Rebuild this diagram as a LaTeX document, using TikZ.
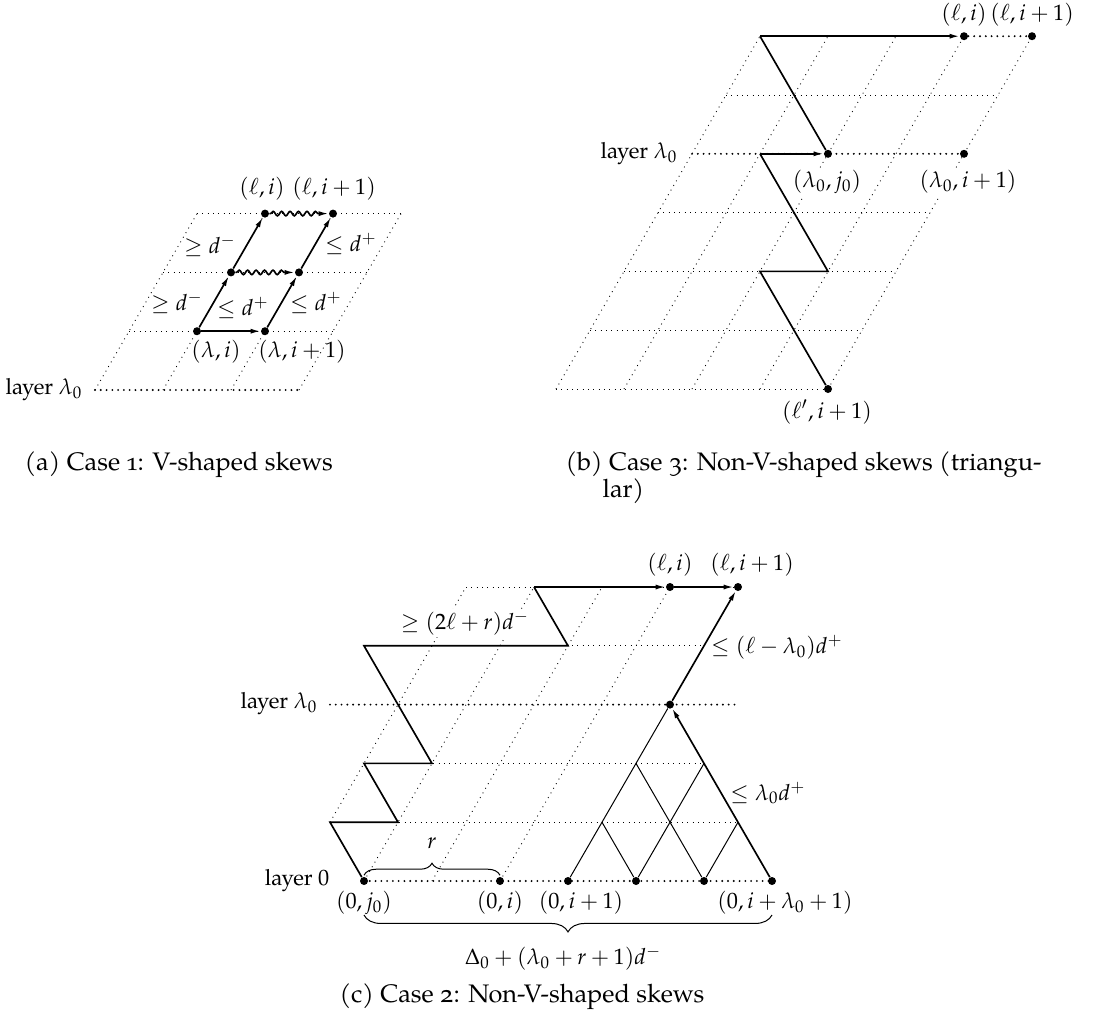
\documentclass[tikz,border=0pt]{standalone}
\usepackage{mathpazo}
\usepackage[no-math]{fontspec}
\setmainfont{TeX Gyre Pagella}[Numbers=OldStyle]
\usetikzlibrary{arrows.meta,decorations.pathmorphing,decorations.pathreplacing}
\begin{document}
\begin{tikzpicture}[x=0.45pt,y=-0.45pt,
  grid/.style={dotted, line width=0.4pt},
  layerline/.style={line width=0.95pt, dash pattern=on 0pt off 2.6pt, line cap=round},
  pathline/.style={line width=0.75pt},
  thinline/.style={line width=0.45pt},
  arr/.style={-{Latex[length=4.5pt,width=2.3pt]}},
  dot/.style={circle, fill, inner sep=0pt, minimum size=3.6pt},
  lbl/.style={inner sep=1pt},
  wlbl/.style={fill=white, inner sep=1pt},
  caption/.style={inner sep=1pt, anchor=west, font=\fontsize{11.4}{14}\selectfont},
  wavy/.style={decorate, decoration={snake, amplitude=1pt, segment length=3.8pt, pre length=0.5pt, post length=4.5pt}},
  lattice/.style={x={(30.6pt,0pt)}, y={(15.3pt,26.46pt)}},
]
\useasboundingbox (0,0) rectangle (1106,1030);

% ---------------- (a) ----------------
\begin{scope}[shift={(95,390)}, lattice]
  \foreach \r in {1,2,3} \draw[grid] (0,\r) -- (3,\r);
  \foreach \c in {0,1,2,3} \draw[grid] (\c,0) -- (\c,3);
  \draw[layerline] (0,0) -- (3,0);
  \node[dot] (A11) at (1,1) {};
  \node[dot] (A21) at (2,1) {};
  \node[dot] (A12) at (1,2) {};
  \node[dot] (A22) at (2,2) {};
  \node[dot] (A13) at (1,3) {};
  \node[dot] (A23) at (2,3) {};
\end{scope}
\node[lbl,anchor=east] (Alayer) at (85,390) {layer $\lambda_0$};
\draw[pathline,arr] (A11) -- (A21);
\draw[pathline,arr] (A11) -- (A12);
\draw[pathline,arr] (A12) -- (A13);
\draw[pathline,arr] (A21) -- (A22);
\draw[pathline,arr] (A22) -- (A23);
\draw[pathline,arr,wavy] (A12) -- (A22);
\draw[pathline,arr,wavy] (A13) -- (A23);
\node[lbl] (Ali) at (262,189) {$(\ell,i)$};
\node[lbl] (Alii) at (334,189) {$(\ell,i+1)$};
\node[lbl] (Ag1) at (210,246) {$\geq d^-$};
\node[lbl] (Ag2) at (177,303) {$\geq d^-$};
\node[lbl] (Al1) at (243,308) {$\leq d^+$};
\node[lbl] (Al2) at (351,244) {$\leq d^+$};
\node[lbl] (Al3) at (316,303) {$\leq d^+$};
\node[lbl] (Ali0) at (216,352) {$(\lambda,i)$};
\node[lbl] (Alii0) at (302,352) {$(\lambda,i+1)$};
\node[caption] (Acap) at (22,465) {(a) Case 1: V-shaped skews};

% ---------------- (b) ----------------
\begin{scope}[shift={(556,389)}, lattice]
  \foreach \r in {0,1,2,3,5} \draw[grid] (0,\r) -- (4,\r);
  \foreach \c in {0,1,2,3,4} \draw[grid] (\c,0) -- (\c,6);
  \draw[layerline] (0,4) -- (4,4);
  \coordinate (B06) at (0,6);
  \coordinate (B14) at (1,4);
  \coordinate (B32) at (3,2);
  \coordinate (B22) at (2,2);
  \node[dot] (B36) at (3,6) {};
  \node[dot] (B46) at (4,6) {};
  \node[dot] (B24) at (2,4) {};
  \node[dot] (B44) at (4,4) {};
  \node[dot] (B40) at (4,0) {};
\end{scope}
\draw[layerline] (B36) -- (B46);
\node[lbl,anchor=east] (Blayer) at (680,154) {layer $\lambda_0$};
\node[wlbl] (Blj) at (827,182) {$(\lambda_0,j_0)$};
\node[wlbl] (Blii) at (968,182) {$(\lambda_0,i+1)$};
\node[lbl] (Bli) at (964,15) {$(\ell,i)$};
\node[lbl] (Blii2) at (1032,15) {$(\ell,i+1)$};
\node[lbl] (Blp) at (827,412) {$(\ell',i+1)$};
\draw[pathline,arr] (B06) -- (B36);
\draw[pathline] (B06) -- (B24);
\draw[pathline,arr] (B14) -- (B24);
\draw[pathline] (B14) -- (B32) -- (B22) -- (B40);
\node[caption] (Bcap) at (563,465) {(b) Case 3: Non-V-shaped skews (triangu-};
\node[caption] (Bcap2) at (600,491) {lar)};

% ---------------- (c) ----------------
\begin{scope}[shift={(364,881)}, lattice]
  \draw[grid] (-1,1) -- (5,1);
  \draw[grid] (-1,2) -- (4,2);
  \draw[grid] (-2,4) -- (3,4);
  \draw[grid] (-1,5) -- (3,5);
  \draw[grid] (-1,1) -- (-1,5);
  \foreach \c in {0,1,2} \draw[grid] (\c,0) -- (\c,5);
  \draw[layerline] (0,0) -- (6,0);
  \draw[layerline] (-2,3) -- (4,3);
  \coordinate (Cm11) at (-1,1);
  \coordinate (C01) at (0,1);
  \coordinate (Cm12) at (-1,2);
  \coordinate (C02) at (0,2);
  \coordinate (Cm24) at (-2,4);
  \coordinate (C14) at (1,4);
  \coordinate (C05) at (0,5);
  \coordinate (C31) at (3,1);
  \coordinate (C32) at (3,2);
  \coordinate (C42) at (4,2);
  \coordinate (C51) at (5,1);
  \node[dot] (C00) at (0,0) {};
  \node[dot] (C20) at (2,0) {};
  \node[dot] (C30) at (3,0) {};
  \node[dot] (C40) at (4,0) {};
  \node[dot] (C50) at (5,0) {};
  \node[dot] (C60) at (6,0) {};
  \node[dot] (C33) at (3,3) {};
  \node[dot] (C25) at (2,5) {};
  \node[dot] (C35) at (3,5) {};
\end{scope}
\node[wlbl] (Cge) at (465,623) {$\geq (2\ell+r)d^-$};
\draw[pathline] (C00) -- (Cm11) -- (C01) -- (Cm12) -- (C02) -- (Cm24) -- (C14) -- (C05);
\draw[pathline,arr] (C05) -- (C25);
\draw[pathline,arr] (C25) -- (C35);
\draw[thinline] (C30) -- (C33);
\draw[thinline] (C31) -- (C40);
\draw[thinline] (C32) -- (C50);
\draw[thinline] (C40) -- (C42);
\draw[thinline] (C50) -- (C51);
\draw[pathline,arr] (C60) -- (C33);
\draw[pathline,arr] (C33) -- (C35);
\draw[thinline,decorate,decoration={brace,amplitude=5.4pt,raise=2.6pt}] (C00.center) -- (C20.center);
\coordinate (BrR) at (772,915);
\coordinate (BrL) at (364,915);
\draw[thinline,decorate,decoration={brace,amplitude=7.6pt}] (BrR) -- (BrL);
\node[lbl,anchor=east] (Clayer) at (320,704) {layer $\lambda_0$};
\node[lbl,anchor=east] (Clayer0) at (332,881) {layer $0$};
\node[lbl] (Cle) at (777,647) {$\leq (\ell-\lambda_0)d^+$};
\node[lbl] (Cll) at (768,793) {$\leq \lambda_0 d^+$};
\node[lbl] (Cr) at (432,843) {$r$};
\node[lbl] (Cli) at (670,565) {$(\ell,i)$};
\node[lbl] (Clii) at (752,565) {$(\ell,i+1)$};
\node[lbl] (C0j) at (364,903) {$(0,j_0)$};
\node[lbl] (C0i) at (500,903) {$(0,i)$};
\node[lbl] (C0ii) at (581,903) {$(0,i+1)$};
\node[lbl] (C0il) at (785,903) {$(0,i+\lambda_0+1)$};
\node[lbl] (CDelta) at (563,958) {$\Delta_0+(\lambda_0+r+1)d^-$};
\node[caption] (Ccap) at (337,997) {(c) Case 2: Non-V-shaped skews};
\end{tikzpicture}
\end{document}
